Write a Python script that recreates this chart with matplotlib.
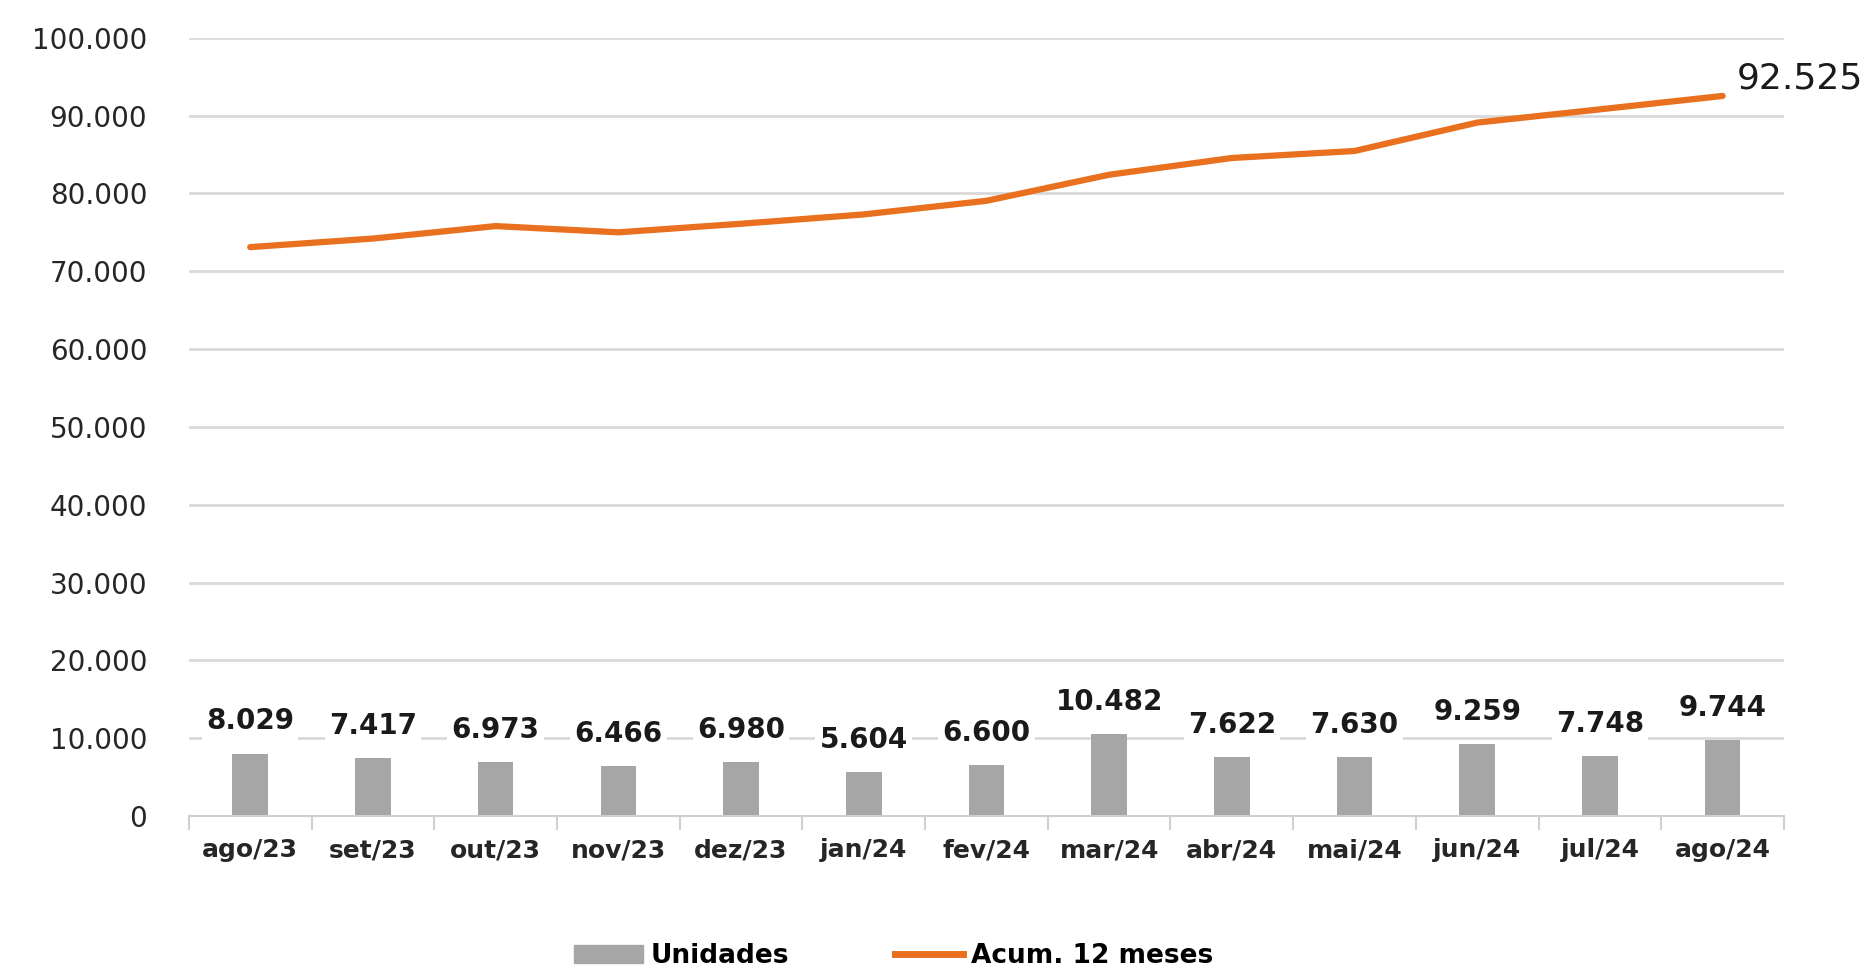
import matplotlib.pyplot as plt
import numpy as np
from matplotlib.lines import Line2D
from matplotlib.patches import Patch

# Emplacamentos mensais e acumulado de 12 meses
meses = ["ago/23", "set/23", "out/23", "nov/23", "dez/23", "jan/24", "fev/24",
         "mar/24", "abr/24", "mai/24", "jun/24", "jul/24", "ago/24"]
unidades = [8029, 7417, 6973, 6466, 6980, 5604, 6600,
            10482, 7622, 7630, 9259, 7748, 9744]
acum_12m = [73100, 74200, 75800, 75000, 76100, 77300, 79050,
            82400, 84550, 85450, 89100, 90800, 92525]
y_ticks = np.arange(0, 100001, 10000)


def fmt_br(v):
    # separador de milhar com ponto
    return f"{v:,.0f}".replace(",", ".")


fig = plt.figure(figsize=(18.7, 9.68), dpi=100)
ax = fig.add_axes([0.101, 0.157, 0.853, 0.804])

x = np.arange(len(meses))
bar_color = "#a6a6a6"
line_color = "#e8701e"

ax.bar(x, unidades, width=0.29, color=bar_color, zorder=2)
ax.plot(x, acum_12m, color=line_color, lw=4.5, zorder=3, solid_capstyle="round")

# rótulos das barras
for xi, v in zip(x, unidades):
    ax.annotate(fmt_br(v), (xi, v), xytext=(0, 13), textcoords="offset points",
                ha="center", va="bottom", fontsize=20, fontweight="bold",
                color="#1a1a1a", zorder=4,
                bbox=dict(boxstyle="square,pad=0.15", fc="white", ec="none"))

# rótulo do último ponto da linha
ax.annotate(fmt_br(acum_12m[-1]), (x[-1], acum_12m[-1]), xytext=(10, 0),
            textcoords="offset points", ha="left", va="bottom",
            fontsize=26, color="#1a1a1a", annotation_clip=False)

ax.set_xlim(-0.5, len(meses) - 0.5)
ax.set_ylim(0, 100000)
ax.set_yticks(y_ticks)
ax.set_yticklabels([fmt_br(v) for v in y_ticks], fontsize=20, color="#262626")
ax.set_xticks(x)
ax.set_xticklabels(meses, fontsize=18, fontweight="bold", color="#262626")
ax.set_xticks(np.arange(-0.5, len(meses), 1), minor=True)
ax.tick_params(axis="x", which="major", length=0, pad=16)
ax.tick_params(axis="x", which="minor", length=10, width=1.5, color="#d0d0d0")
ax.tick_params(axis="y", length=0, pad=30)

ax.grid(axis="y", color="#d9d9d9", lw=2, zorder=0)
ax.set_axisbelow(True)
for side in ["top", "right", "left"]:
    ax.spines[side].set_visible(False)
ax.spines["bottom"].set_color("#d0d0d0")
ax.spines["bottom"].set_linewidth(1.5)

handles = [Patch(color=bar_color), Line2D([], [], color=line_color, lw=5)]
fig.legend(handles, ["Unidades", "Acum. 12 meses"], loc="center",
           bbox_to_anchor=(0.478, 0.012), ncol=2, frameon=False,
           prop={"size": 19, "weight": "bold"}, handlelength=2.6,
           columnspacing=4.0, handletextpad=0.3)

fig.savefig("out.png", dpi=100, facecolor="white")
